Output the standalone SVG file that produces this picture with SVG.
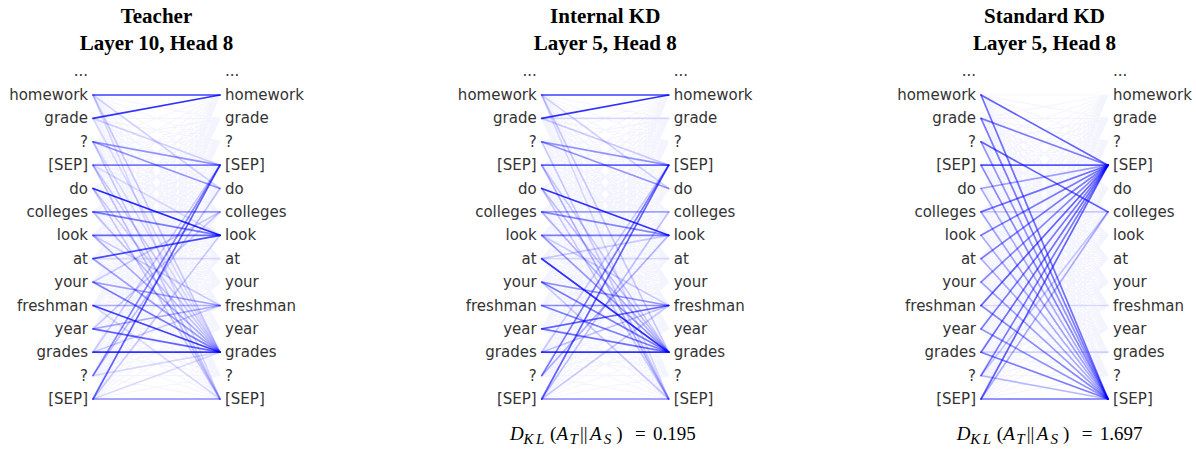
<svg xmlns="http://www.w3.org/2000/svg" xmlns:xlink="http://www.w3.org/1999/xlink" width="1196" height="449" viewBox="0 0 1196 449">
<style>
.title{font-family:"Liberation Serif","Times New Roman",serif;font-weight:bold;font-size:21px;fill:#000;text-anchor:middle}
.lw{font-family:"DejaVu Sans",Verdana,sans-serif;font-size:15px;fill:#333;text-anchor:end}
.rw{font-family:"DejaVu Sans",Verdana,sans-serif;font-size:15px;fill:#333;text-anchor:start}
.kl{font-family:"Liberation Serif","Times New Roman",serif;font-size:19px;fill:#000}
.it{font-style:italic}
.sub{font-style:italic;font-size:15px;letter-spacing:2.5px}
.ln{stroke:#0000ff;stroke-width:1.7;fill:none;stroke-linecap:round}
.haze{stroke:#0000ff;stroke-width:1.2;fill:none;stroke-linejoin:round;stroke-opacity:0.045}
</style>
<defs>
<g id="labels">
<text class="lw" x="-5" y="76">...</text>
<text class="lw" x="-5" y="100">homework</text>
<text class="lw" x="-5" y="123.4">grade</text>
<text class="lw" x="-5" y="146.8">?</text>
<text class="lw" x="-5" y="170.2">[SEP]</text>
<text class="lw" x="-5" y="193.5">do</text>
<text class="lw" x="-5" y="216.9">colleges</text>
<text class="lw" x="-5" y="240.3">look</text>
<text class="lw" x="-5" y="263.7">at</text>
<text class="lw" x="-5" y="287.1">your</text>
<text class="lw" x="-5" y="310.5">freshman</text>
<text class="lw" x="-5" y="333.9">year</text>
<text class="lw" x="-5" y="357.2">grades</text>
<text class="lw" x="-5" y="380.6">?</text>
<text class="lw" x="-5" y="404">[SEP]</text>
<text class="rw" x="132" y="76">...</text>
<text class="rw" x="132" y="100">homework</text>
<text class="rw" x="132" y="123.4">grade</text>
<text class="rw" x="132" y="146.8">?</text>
<text class="rw" x="132" y="170.2">[SEP]</text>
<text class="rw" x="132" y="193.5">do</text>
<text class="rw" x="132" y="216.9">colleges</text>
<text class="rw" x="132" y="240.3">look</text>
<text class="rw" x="132" y="263.7">at</text>
<text class="rw" x="132" y="287.1">your</text>
<text class="rw" x="132" y="310.5">freshman</text>
<text class="rw" x="132" y="333.9">year</text>
<text class="rw" x="132" y="357.2">grades</text>
<text class="rw" x="132" y="380.6">?</text>
<text class="rw" x="132" y="404">[SEP]</text>
</g>
<path id="haze" class="haze" d="M0 95L127 95L0 95L127 118.4L0 95L127 141.8L0 95L127 165.2L0 95L127 188.5L0 95L127 211.9L0 95L127 235.3L0 95L127 258.7L0 95L127 282.1L0 95L127 305.5L0 95L127 328.9L0 95L127 352.2L0 95L127 375.6L0 95L127 399
M0 118.4L127 95L0 118.4L127 118.4L0 118.4L127 141.8L0 118.4L127 165.2L0 118.4L127 188.5L0 118.4L127 211.9L0 118.4L127 235.3L0 118.4L127 258.7L0 118.4L127 282.1L0 118.4L127 305.5L0 118.4L127 328.9L0 118.4L127 352.2L0 118.4L127 375.6L0 118.4L127 399
M0 141.8L127 95L0 141.8L127 118.4L0 141.8L127 141.8L0 141.8L127 165.2L0 141.8L127 188.5L0 141.8L127 211.9L0 141.8L127 235.3L0 141.8L127 258.7L0 141.8L127 282.1L0 141.8L127 305.5L0 141.8L127 328.9L0 141.8L127 352.2L0 141.8L127 375.6L0 141.8L127 399
M0 165.2L127 95L0 165.2L127 118.4L0 165.2L127 141.8L0 165.2L127 165.2L0 165.2L127 188.5L0 165.2L127 211.9L0 165.2L127 235.3L0 165.2L127 258.7L0 165.2L127 282.1L0 165.2L127 305.5L0 165.2L127 328.9L0 165.2L127 352.2L0 165.2L127 375.6L0 165.2L127 399
M0 188.5L127 95L0 188.5L127 118.4L0 188.5L127 141.8L0 188.5L127 165.2L0 188.5L127 188.5L0 188.5L127 211.9L0 188.5L127 235.3L0 188.5L127 258.7L0 188.5L127 282.1L0 188.5L127 305.5L0 188.5L127 328.9L0 188.5L127 352.2L0 188.5L127 375.6L0 188.5L127 399
M0 211.9L127 95L0 211.9L127 118.4L0 211.9L127 141.8L0 211.9L127 165.2L0 211.9L127 188.5L0 211.9L127 211.9L0 211.9L127 235.3L0 211.9L127 258.7L0 211.9L127 282.1L0 211.9L127 305.5L0 211.9L127 328.9L0 211.9L127 352.2L0 211.9L127 375.6L0 211.9L127 399
M0 235.3L127 95L0 235.3L127 118.4L0 235.3L127 141.8L0 235.3L127 165.2L0 235.3L127 188.5L0 235.3L127 211.9L0 235.3L127 235.3L0 235.3L127 258.7L0 235.3L127 282.1L0 235.3L127 305.5L0 235.3L127 328.9L0 235.3L127 352.2L0 235.3L127 375.6L0 235.3L127 399
M0 258.7L127 95L0 258.7L127 118.4L0 258.7L127 141.8L0 258.7L127 165.2L0 258.7L127 188.5L0 258.7L127 211.9L0 258.7L127 235.3L0 258.7L127 258.7L0 258.7L127 282.1L0 258.7L127 305.5L0 258.7L127 328.9L0 258.7L127 352.2L0 258.7L127 375.6L0 258.7L127 399
M0 282.1L127 95L0 282.1L127 118.4L0 282.1L127 141.8L0 282.1L127 165.2L0 282.1L127 188.5L0 282.1L127 211.9L0 282.1L127 235.3L0 282.1L127 258.7L0 282.1L127 282.1L0 282.1L127 305.5L0 282.1L127 328.9L0 282.1L127 352.2L0 282.1L127 375.6L0 282.1L127 399
M0 305.5L127 95L0 305.5L127 118.4L0 305.5L127 141.8L0 305.5L127 165.2L0 305.5L127 188.5L0 305.5L127 211.9L0 305.5L127 235.3L0 305.5L127 258.7L0 305.5L127 282.1L0 305.5L127 305.5L0 305.5L127 328.9L0 305.5L127 352.2L0 305.5L127 375.6L0 305.5L127 399
M0 328.9L127 95L0 328.9L127 118.4L0 328.9L127 141.8L0 328.9L127 165.2L0 328.9L127 188.5L0 328.9L127 211.9L0 328.9L127 235.3L0 328.9L127 258.7L0 328.9L127 282.1L0 328.9L127 305.5L0 328.9L127 328.9L0 328.9L127 352.2L0 328.9L127 375.6L0 328.9L127 399
M0 352.2L127 95L0 352.2L127 118.4L0 352.2L127 141.8L0 352.2L127 165.2L0 352.2L127 188.5L0 352.2L127 211.9L0 352.2L127 235.3L0 352.2L127 258.7L0 352.2L127 282.1L0 352.2L127 305.5L0 352.2L127 328.9L0 352.2L127 352.2L0 352.2L127 375.6L0 352.2L127 399
M0 375.6L127 95L0 375.6L127 118.4L0 375.6L127 141.8L0 375.6L127 165.2L0 375.6L127 188.5L0 375.6L127 211.9L0 375.6L127 235.3L0 375.6L127 258.7L0 375.6L127 282.1L0 375.6L127 305.5L0 375.6L127 328.9L0 375.6L127 352.2L0 375.6L127 375.6L0 375.6L127 399
M0 399L127 95L0 399L127 118.4L0 399L127 141.8L0 399L127 165.2L0 399L127 188.5L0 399L127 211.9L0 399L127 235.3L0 399L127 258.7L0 399L127 282.1L0 399L127 305.5L0 399L127 328.9L0 399L127 352.2L0 399L127 375.6L0 399L127 399"/>
</defs>

<g id="panel-teacher" transform="translate(93,0)">
<text class="title" x="63.5" y="23">Teacher</text>
<text class="title" x="63.5" y="50">Layer 10, Head 8</text>
<g id="connectors-teacher" class="ln">
<use xlink:href="#haze"/>
<path d="M0 95L127 95" stroke-opacity=".75"/>
<path d="M0 95L127 352.2" stroke-opacity=".18"/>
<path d="M0 95L127 399" stroke-opacity=".12"/>
<path d="M0 95L127 188.5" stroke-opacity=".15"/>
<path d="M0 118.4L127 95" stroke-opacity=".8"/>
<path d="M0 118.4L127 165.2" stroke-opacity=".15"/>
<path d="M0 118.4L127 352.2" stroke-opacity=".12"/>
<path d="M0 141.8L127 165.2" stroke-opacity=".4"/>
<path d="M0 141.8L127 188.5" stroke-opacity=".4"/>
<path d="M0 141.8L127 399" stroke-opacity=".18"/>
<path d="M0 141.8L127 352.2" stroke-opacity=".12"/>
<path d="M0 165.2L127 165.2" stroke-opacity=".5"/>
<path d="M0 165.2L127 399" stroke-opacity=".22"/>
<path d="M0 165.2L127 352.2" stroke-opacity=".18"/>
<path d="M0 165.2L127 235.3" stroke-opacity=".12"/>
<path d="M0 188.5L127 235.3" stroke-opacity=".85"/>
<path d="M0 188.5L127 352.2" stroke-opacity=".18"/>
<path d="M0 188.5L127 399" stroke-opacity=".18"/>
<path d="M0 211.9L127 211.9" stroke-opacity=".4"/>
<path d="M0 211.9L127 235.3" stroke-opacity=".5"/>
<path d="M0 211.9L127 352.2" stroke-opacity=".22"/>
<path d="M0 235.3L127 235.3" stroke-opacity=".6"/>
<path d="M0 235.3L127 352.2" stroke-opacity=".3"/>
<path d="M0 235.3L127 305.5" stroke-opacity=".18"/>
<path d="M0 258.7L127 235.3" stroke-opacity=".7"/>
<path d="M0 258.7L127 352.2" stroke-opacity=".35"/>
<path d="M0 258.7L127 258.7" stroke-opacity=".12"/>
<path d="M0 282.1L127 305.5" stroke-opacity=".35"/>
<path d="M0 282.1L127 352.2" stroke-opacity=".5"/>
<path d="M0 282.1L127 211.9" stroke-opacity=".18"/>
<path d="M0 305.5L127 352.2" stroke-opacity=".75"/>
<path d="M0 305.5L127 305.5" stroke-opacity=".3"/>
<path d="M0 305.5L127 399" stroke-opacity=".12"/>
<path d="M0 328.9L127 352.2" stroke-opacity=".6"/>
<path d="M0 328.9L127 305.5" stroke-opacity=".3"/>
<path d="M0 328.9L127 211.9" stroke-opacity=".18"/>
<path d="M0 352.2L127 352.2" stroke-opacity=".8"/>
<path d="M0 352.2L127 165.2" stroke-opacity=".18"/>
<path d="M0 352.2L127 305.5" stroke-opacity=".18"/>
<path d="M0 375.6L127 165.2" stroke-opacity=".45"/>
<path d="M0 375.6L127 188.5" stroke-opacity=".22"/>
<path d="M0 375.6L127 352.2" stroke-opacity=".12"/>
<path d="M0 399L127 399" stroke-opacity=".45"/>
<path d="M0 399L127 165.2" stroke-opacity=".6"/>
<path d="M0 399L127 235.3" stroke-opacity=".18"/>
<path d="M0 399L127 352.2" stroke-opacity=".12"/>
</g>
<g id="words-teacher"><use xlink:href="#labels"/></g>
</g>

<g id="panel-internal" transform="translate(541.7,0)">
<text class="title" x="63.5" y="23">Internal KD</text>
<text class="title" x="63.5" y="50">Layer 5, Head 8</text>
<g id="connectors-internal" class="ln">
<use xlink:href="#haze"/>
<path d="M0 95L127 95" stroke-opacity=".75"/>
<path d="M0 95L127 352.2" stroke-opacity=".18"/>
<path d="M0 95L127 399" stroke-opacity=".12"/>
<path d="M0 95L127 188.5" stroke-opacity=".15"/>
<path d="M0 118.4L127 95" stroke-opacity=".8"/>
<path d="M0 118.4L127 118.4" stroke-opacity=".12"/>
<path d="M0 118.4L127 165.2" stroke-opacity=".18"/>
<path d="M0 141.8L127 165.2" stroke-opacity=".4"/>
<path d="M0 141.8L127 188.5" stroke-opacity=".4"/>
<path d="M0 141.8L127 399" stroke-opacity=".18"/>
<path d="M0 165.2L127 165.2" stroke-opacity=".6"/>
<path d="M0 165.2L127 399" stroke-opacity=".28"/>
<path d="M0 165.2L127 352.2" stroke-opacity=".18"/>
<path d="M0 188.5L127 235.3" stroke-opacity=".8"/>
<path d="M0 188.5L127 352.2" stroke-opacity=".22"/>
<path d="M0 188.5L127 399" stroke-opacity=".18"/>
<path d="M0 211.9L127 211.9" stroke-opacity=".35"/>
<path d="M0 211.9L127 235.3" stroke-opacity=".45"/>
<path d="M0 211.9L127 352.2" stroke-opacity=".28"/>
<path d="M0 235.3L127 235.3" stroke-opacity=".5"/>
<path d="M0 235.3L127 352.2" stroke-opacity=".38"/>
<path d="M0 235.3L127 305.5" stroke-opacity=".18"/>
<path d="M0 258.7L127 352.2" stroke-opacity=".8"/>
<path d="M0 258.7L127 235.3" stroke-opacity=".18"/>
<path d="M0 258.7L127 258.7" stroke-opacity=".12"/>
<path d="M0 282.1L127 352.2" stroke-opacity=".5"/>
<path d="M0 282.1L127 305.5" stroke-opacity=".4"/>
<path d="M0 282.1L127 399" stroke-opacity=".18"/>
<path d="M0 305.5L127 305.5" stroke-opacity=".45"/>
<path d="M0 305.5L127 352.2" stroke-opacity=".5"/>
<path d="M0 328.9L127 305.5" stroke-opacity=".6"/>
<path d="M0 328.9L127 352.2" stroke-opacity=".55"/>
<path d="M0 352.2L127 352.2" stroke-opacity=".8"/>
<path d="M0 352.2L127 305.5" stroke-opacity=".22"/>
<path d="M0 352.2L127 165.2" stroke-opacity=".18"/>
<path d="M0 375.6L127 165.2" stroke-opacity=".5"/>
<path d="M0 375.6L127 235.3" stroke-opacity=".28"/>
<path d="M0 399L127 399" stroke-opacity=".45"/>
<path d="M0 399L127 165.2" stroke-opacity=".6"/>
<path d="M0 399L127 211.9" stroke-opacity=".22"/>
<path d="M0 399L127 305.5" stroke-opacity=".18"/>
</g>
<g id="words-internal"><use xlink:href="#labels"/></g>
<text class="kl" y="440"><tspan class="it" x="-31.7">D</tspan><tspan class="sub" x="-18.2" dy="4">KL</tspan><tspan x="8.3" dy="-4">(</tspan><tspan class="it" x="14.8">A</tspan><tspan class="sub" x="27.8" dy="4">T</tspan><tspan x="38.3" dy="-4">||</tspan><tspan class="it" x="48.3">A</tspan><tspan class="sub" x="62" dy="4">S</tspan><tspan x="74.5" dy="-4">)</tspan><tspan x="93.3">=</tspan><tspan x="111.3">0.195</tspan></text>
</g>

<g id="panel-standard" transform="translate(981,0)">
<text class="title" x="63.5" y="23">Standard KD</text>
<text class="title" x="63.5" y="50">Layer 5, Head 8</text>
<g id="connectors-standard" class="ln">
<use xlink:href="#haze"/>
<path d="M0 95L127 165.2" stroke-opacity=".6"/>
<path d="M0 95L127 399" stroke-opacity=".55"/>
<path d="M0 118.4L127 165.2" stroke-opacity=".5"/>
<path d="M0 118.4L127 399" stroke-opacity=".5"/>
<path d="M0 141.8L127 211.9" stroke-opacity=".6"/>
<path d="M0 141.8L127 399" stroke-opacity=".4"/>
<path d="M0 165.2L127 165.2" stroke-opacity=".65"/>
<path d="M0 165.2L127 399" stroke-opacity=".45"/>
<path d="M0 188.5L127 165.2" stroke-opacity=".35"/>
<path d="M0 188.5L127 399" stroke-opacity=".3"/>
<path d="M0 211.9L127 165.2" stroke-opacity=".55"/>
<path d="M0 211.9L127 399" stroke-opacity=".35"/>
<path d="M0 235.3L127 165.2" stroke-opacity=".5"/>
<path d="M0 235.3L127 399" stroke-opacity=".3"/>
<path d="M0 258.7L127 165.2" stroke-opacity=".5"/>
<path d="M0 258.7L127 399" stroke-opacity=".3"/>
<path d="M0 282.1L127 165.2" stroke-opacity=".45"/>
<path d="M0 282.1L127 399" stroke-opacity=".35"/>
<path d="M0 305.5L127 165.2" stroke-opacity=".6"/>
<path d="M0 305.5L127 399" stroke-opacity=".45"/>
<path d="M0 328.9L127 165.2" stroke-opacity=".5"/>
<path d="M0 328.9L127 399" stroke-opacity=".4"/>
<path d="M0 352.2L127 165.2" stroke-opacity=".55"/>
<path d="M0 352.2L127 399" stroke-opacity=".5"/>
<path d="M0 375.6L127 165.2" stroke-opacity=".5"/>
<path d="M0 375.6L127 399" stroke-opacity=".25"/>
<path d="M0 399L127 165.2" stroke-opacity=".6"/>
<path d="M0 399L127 399" stroke-opacity=".55"/>
<path d="M0 399L127 211.9" stroke-opacity=".3"/>
<path d="M0 375.6L127 211.9" stroke-opacity=".2"/>
<path d="M0 211.9L127 211.9" stroke-opacity=".18"/>
<path d="M0 352.2L127 352.2" stroke-opacity=".15"/>
<path d="M0 305.5L127 305.5" stroke-opacity=".12"/>
</g>
<g id="words-standard"><use xlink:href="#labels"/></g>
<text class="kl" y="440"><tspan class="it" x="-24.3">D</tspan><tspan class="sub" x="-10.8" dy="4">KL</tspan><tspan x="15.7" dy="-4">(</tspan><tspan class="it" x="22.2">A</tspan><tspan class="sub" x="35.2" dy="4">T</tspan><tspan x="45.7" dy="-4">||</tspan><tspan class="it" x="55.7">A</tspan><tspan class="sub" x="69.4" dy="4">S</tspan><tspan x="81.9" dy="-4">)</tspan><tspan x="100.7">=</tspan><tspan x="118.7">1.697</tspan></text>
</g>
</svg>
